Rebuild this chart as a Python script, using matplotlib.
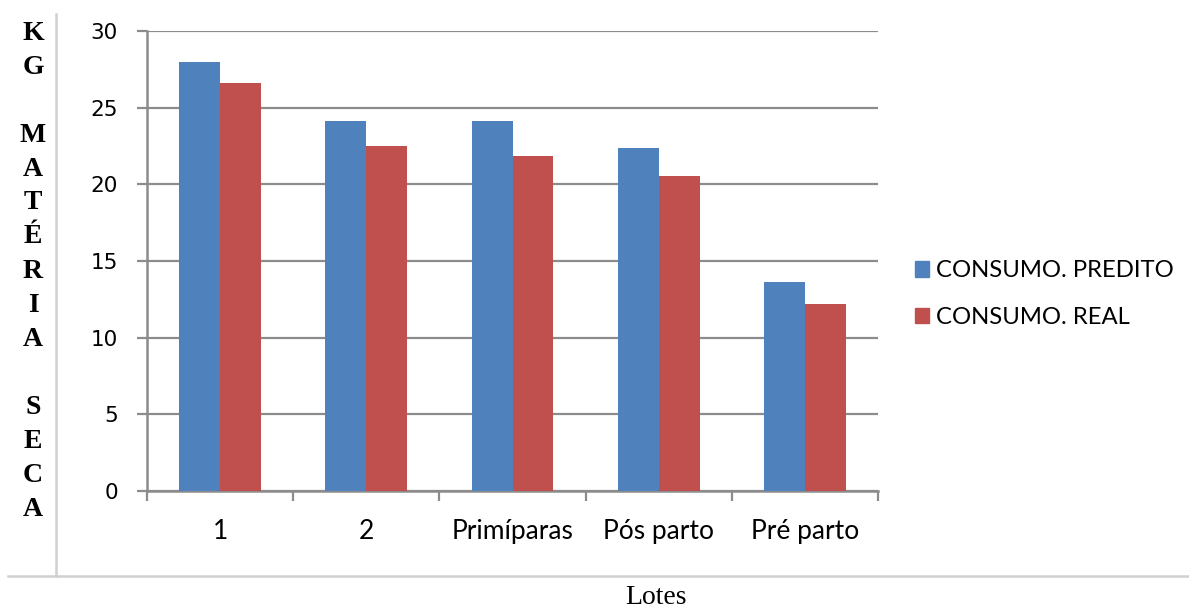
import numpy as np
import matplotlib.pyplot as plt
from matplotlib.lines import Line2D
from matplotlib.patches import Patch

# dados
lotes = ['1', '2', 'Primíparas', 'Pós parto', 'Pré parto']
consumo_predito = [28.0, 24.15, 24.15, 22.4, 13.6]
consumo_real = [26.6, 22.5, 21.85, 20.55, 12.2]
y_ticks = [0, 5, 10, 15, 20, 25, 30]
rotulo_y = ['K', 'G', '', 'M', 'A', 'T', 'É', 'R', 'I', 'A', '', 'S', 'E', 'C', 'A']

AZUL = '#4F81BD'
VERMELHO = '#C0504D'
CINZA = '#8C8C8C'

W, H = 1189, 614
fig = plt.figure(figsize=(W / 100, H / 100), dpi=100)
ax = fig.add_axes([147 / W, 1 - 491 / H, (878 - 147) / W, (491 - 31) / H])

x = np.arange(len(lotes))
larg = 0.28
ax.bar(x - larg / 2, consumo_predito, larg, color=AZUL, zorder=3)
ax.bar(x + larg / 2, consumo_real, larg, color=VERMELHO, zorder=3)

ax.set_xlim(-0.5, len(lotes) - 0.5)
ax.set_ylim(0, 30)
ax.set_yticks(y_ticks)
ax.set_yticklabels([str(v) for v in y_ticks], fontsize=15.5, family='DejaVu Sans')
ax.grid(axis='y', color=CINZA, linewidth=1.6, zorder=0)

# ticks nas fronteiras, rotulos no centro
ax.set_xticks(np.arange(len(lotes) + 1) - 0.5)
ax.set_xticklabels([])
ax.set_xticks(x, minor=True)
ax.set_xticklabels(lotes, minor=True, fontsize=19, family='Lato')
ax.tick_params(axis='x', which='major', direction='out', length=7, width=1.6, color=CINZA)
ax.tick_params(axis='x', which='minor', length=0, pad=20)
ax.tick_params(axis='y', direction='out', length=7, width=1.6, color=CINZA, pad=14)

for s in ['top', 'right']:
    ax.spines[s].set_visible(False)
for s in ['left', 'bottom']:
    ax.spines[s].set_color(CINZA)
    ax.spines[s].set_linewidth(1.8)

# legenda
handles = [Patch(color=AZUL), Patch(color=VERMELHO)]
fig.legend(handles, ['CONSUMO. PREDITO', 'CONSUMO. REAL'], loc='center left',
           bbox_to_anchor=(893 / W, 1 - 294 / H), frameon=False,
           prop={'family': 'Lato', 'size': 17.2}, handlelength=0.6, handleheight=0.6,
           handletextpad=0.3, labelspacing=1.05)

# bordas da tabela
fig.add_artist(Line2D([56 / W, 56 / W], [1 - 14 / H, 1 - 576 / H], color='#D0D0D0', linewidth=1.8))
fig.add_artist(Line2D([8 / W, 1.0], [1 - 576 / H, 1 - 576 / H], color='#D0D0D0', linewidth=1.8))

# rotulo vertical letra por letra
for i, letra in enumerate(rotulo_y):
    fig.text(33 / W, 1 - (33 + 34 * i) / H, letra, ha='center', va='center',
             family='Liberation Serif', fontweight='bold', fontsize=20)

fig.text(656 / W, 1 - 604 / H, 'Lotes', ha='center', va='baseline',
         family='Liberation Serif', fontsize=20)

fig.savefig('out.png', dpi=100)
